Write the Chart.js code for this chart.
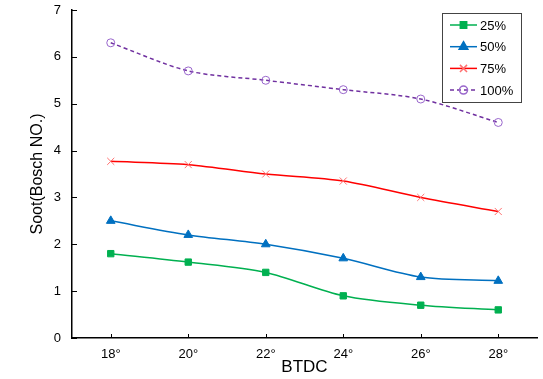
<!DOCTYPE html>
<html>
<head>
<meta charset="utf-8">
<script src="https://cdn.jsdelivr.net/npm/chart.js@4.4.0/dist/chart.umd.min.js"></script>
<style>
  html, body { margin: 0; padding: 0; background: #fff; }
  #wrap { width: 543px; height: 379px; position: relative; }
</style>
</head>
<body>
<div id="wrap"><canvas id="sootChart"></canvas></div>
<script>
const categories = ["18°", "20°", "22°", "24°", "26°", "28°"];
const seriesNames = ["25%", "50%", "75%", "100%"];
const load25 = [1.8, 1.62, 1.4, 0.9, 0.7, 0.6];
const load50 = [2.5, 2.2, 2.0, 1.7, 1.3, 1.22];
const load75 = [3.77, 3.7, 3.5, 3.35, 3.0, 2.7];
const load100 = [6.3, 5.7, 5.5, 5.3, 5.1, 4.6];
const yTicks = [0, 1, 2, 3, 4, 5, 6, 7];

const FONT = "'Liberation Sans', Arial, sans-serif";

// ticks point inward, chart.js can't do that itself
const innerTicks = {
  id: "innerTicks",
  afterDraw(chart) {
    const ctx = chart.ctx;
    const x = chart.scales.x, y = chart.scales.y;
    ctx.save();
    ctx.strokeStyle = "#000";
    ctx.lineWidth = 1;
    x.ticks.forEach((t, i) => {
      const px = Math.round(x.getPixelForTick(i)) + 0.5;
      ctx.beginPath();
      ctx.moveTo(px, x.top);
      ctx.lineTo(px, x.top - 4);
      ctx.stroke();
    });
    y.ticks.forEach((t, i) => {
      const py = Math.round(y.getPixelForTick(i)) + 0.5;
      ctx.beginPath();
      ctx.moveTo(y.right, py);
      ctx.lineTo(y.right + 5, py);
      ctx.stroke();
    });
    ctx.restore();
  }
};

// legend box inside the plot, top right
const boxLegend = {
  id: "boxLegend",
  afterDraw(chart) {
    const ctx = chart.ctx;
    const area = chart.chartArea;
    const bx = area.right - 95, by = area.top + 3, bw = 79, bh = 89;
    ctx.save();
    ctx.fillStyle = "#fff";
    ctx.fillRect(bx, by, bw, bh);
    ctx.strokeStyle = "#444";
    ctx.lineWidth = 1;
    ctx.strokeRect(bx + 0.5, by + 0.5, bw, bh);
    chart.data.datasets.forEach((ds, i) => {
      const ly = by + 12 + i * 21.7;
      ctx.strokeStyle = ds.borderColor;
      ctx.lineWidth = ds.borderWidth;
      ctx.setLineDash(ds.borderDash || []);
      ctx.beginPath();
      ctx.moveTo(bx + 8, ly);
      ctx.lineTo(bx + 35, ly);
      ctx.stroke();
      ctx.setLineDash([]);
      ctx.fillStyle = ds.pointBackgroundColor;
      ctx.strokeStyle = ds.pointBorderColor;
      Chart.helpers.drawPoint(ctx, {
        pointStyle: ds.pointStyle,
        radius: ds.pointRadius,
        borderWidth: 1,
        rotation: 0
      }, bx + 21.5, ly);
      ctx.fillStyle = "#000";
      ctx.font = "13px " + FONT;
      ctx.textBaseline = "middle";
      ctx.fillText(ds.label, bx + 38, ly + 1);
    });
    ctx.restore();
  }
};

const lineSet = (label, data, color, pointColor, style, radius, extra) => Object.assign({
  label,
  data,
  borderColor: color,
  borderWidth: 1.5,
  pointStyle: style,
  pointRadius: radius,
  pointHoverRadius: radius,
  pointBackgroundColor: pointColor,
  pointBorderColor: pointColor,
  pointBorderWidth: 1,
  tension: 0.3,
  fill: false
}, extra || {});

new Chart(document.getElementById("sootChart"), {
  type: "line",
  data: {
    labels: categories,
    datasets: [
      lineSet(seriesNames[0], load25, "#00b050", "#00b050", "rect", 4.5),
      lineSet(seriesNames[1], load50, "#0070c0", "#0070c0", "triangle", 5),
      lineSet(seriesNames[2], load75, "#ff0000", "#ff7070", "crossRot", 5),
      lineSet(seriesNames[3], load100, "#7030a0", "#9966cc", "circle", 4,
        { borderDash: [4, 3], pointBackgroundColor: "rgba(0,0,0,0)" })
    ]
  },
  options: {
    responsive: true,
    maintainAspectRatio: false,
    animation: false,
    layout: { padding: { top: 10, right: 5, left: 0, bottom: 0 } },
    plugins: { legend: { display: false }, tooltip: { enabled: false } },
    scales: {
      x: {
        type: "category",
        offset: true,
        grid: { display: false, drawTicks: false },
        border: { display: true, color: "#000", width: 1.5 },
        ticks: { color: "#000", font: { family: FONT, size: 13 }, padding: 9, maxRotation: 0 },
        title: { display: true, text: "BTDC", color: "#000", font: { family: FONT, size: 17 }, padding: { top: 0, bottom: 1 } },
        afterFit: s => { s.height = 41; s.paddingLeft = 0; s.paddingRight = 0; }
      },
      y: {
        min: 0,
        max: 7,
        grid: { display: false, drawTicks: false },
        border: { display: true, color: "#000", width: 1.5 },
        afterBuildTicks: s => { s.ticks = yTicks.map(v => ({ value: v })); },
        ticks: { color: "#000", font: { family: FONT, size: 13 }, padding: 11 },
        title: { display: true, text: "Soot(Bosch NO.)", color: "#000", font: { family: FONT, size: 16 }, padding: { top: 28, bottom: 0 } },
        afterFit: s => { s.width = 72; s.paddingTop = 0; s.paddingBottom = 0; }
      }
    }
  },
  plugins: [innerTicks, boxLegend]
});
</script>
</body>
</html>
